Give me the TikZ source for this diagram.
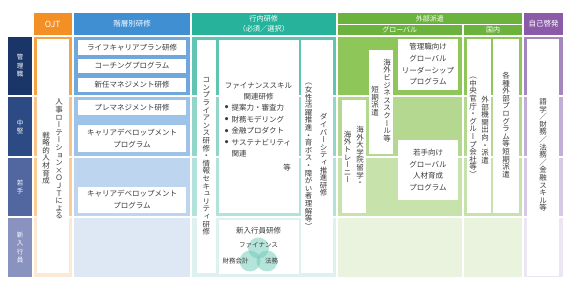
\documentclass[tikz,border=0pt]{standalone}
\usepackage{fontspec}
\setmainfont{Noto Sans CJK JP}
\newfontfamily\tatefont[RawFeature=+vert]{Noto Sans CJK JP}
\makeatletter
\newdimen\tate@w
\def\tate@end{\tate@end}
\def\tate@step#1{\ifx#1\tate@end\else\hbox to \tate@w{\hss#1\hss}\expandafter\tate@step\fi}
\newcommand\tate[2][7.6pt]{\vbox{\tatefont\tate@w=1em\baselineskip=#1\lineskip=0pt\lineskiplimit=-20pt\tate@step#2\tate@end}}
\makeatother
\newcommand\bul{\makebox[0pt][r]{\raisebox{1.5pt}{\fontsize{3.6}{4}\selectfont ●}\hspace{3.2pt}}}
\definecolor{txt}{HTML}{3A3A3A}
\definecolor{lab1}{HTML}{1A3668}
\definecolor{lab2}{HTML}{2C4B84}
\definecolor{lab3}{HTML}{5266A0}
\definecolor{lab4}{HTML}{8A92BF}
\definecolor{ojtH}{HTML}{F28F25}
\definecolor{ojt1}{HTML}{F5A346}
\definecolor{ojt2}{HTML}{F9C38C}
\definecolor{ojt3}{HTML}{FBCB98}
\definecolor{ojt4}{HTML}{FDE9D3}
\definecolor{kaiH}{HTML}{3F8FD2}
\definecolor{kai1}{HTML}{6FA8DC}
\definecolor{kai2}{HTML}{9DC3E8}
\definecolor{kai3}{HTML}{BDD5EF}
\definecolor{kai4}{HTML}{DEE8F5}
\definecolor{konH}{HTML}{27B39B}
\definecolor{kon1}{HTML}{5FC4B2}
\definecolor{kon2}{HTML}{92D6CA}
\definecolor{kon3}{HTML}{B3E2DA}
\definecolor{kon4}{HTML}{DDF2EE}
\definecolor{gaiH}{HTML}{6CB33E}
\definecolor{gai1}{HTML}{8FC65A}
\definecolor{gai2}{HTML}{B5D890}
\definecolor{gai3}{HTML}{C7E2AA}
\definecolor{gai4}{HTML}{E9F3DE}
\definecolor{jikoH}{HTML}{8B5BAA}
\definecolor{jiko1}{HTML}{A587C0}
\definecolor{jiko2}{HTML}{C2ADD6}
\definecolor{jiko3}{HTML}{D6C9E5}
\definecolor{jiko4}{HTML}{ECE5F3}
\definecolor{venn}{HTML}{6CCAB8}
\tikzset{
  hd/.style={inner sep=0, text=white, font=\fontsize{7.5}{10.5}\selectfont, align=center},
  lb/.style={inner sep=0, text=white, font=\fontsize{6.5}{8.5}\selectfont},
  tx/.style={inner sep=0, text=txt, font=\fontsize{7.5}{12}\selectfont, align=center},
  vt/.style={inner sep=0, text=txt, font=\fontsize{7.5}{7.6}\selectfont},
  sm/.style={inner sep=0, text=txt, font=\fontsize{6.5}{8}\selectfont},
  wbox/.style={fill=white},
}
\begin{document}
\begin{tikzpicture}[x=1pt,y=-1pt]
\useasboundingbox (0,0) rectangle (575,288);
\fill[white] (0,0) rectangle (575,288);
% row labels
\fill[lab1] (8,37) rectangle (32,95.5);
\fill[lab2] (8,97.5) rectangle (32,156);
\fill[lab3] (8,158) rectangle (32,216.5);
\fill[lab4] (8,218.5) rectangle (32,277);
\node[lb] (l1) at (20,66) {\tate[8.5pt]{管理職}};
\node[lb] (l2) at (20,126.75) {\tate[8.5pt]{中堅}};
\node[lb] (l3) at (20,187.25) {\tate[8.5pt]{若手}};
\node[lb] (l4) at (20,247.75) {\tate[8.5pt]{新入行員}};
% headers
\fill[ojtH] (33.5,13) rectangle (72,35);
\fill[kaiH] (74,13) rectangle (190,35);
\fill[konH] (192,13) rectangle (335.5,35);
\fill[gaiH] (337.5,13) rectangle (522,24.5);
\fill[gaiH] (337.5,25.5) rectangle (462,35);
\fill[gaiH] (464,25.5) rectangle (522,35);
\fill[jikoH] (524,13) rectangle (563,35);
\node[hd, font=\fontsize{8.5}{10}\selectfont] (hojt) at (52.75,24) {OJT};
\node[hd] (hkai) at (132,24) {階層別研修};
\node[hd, font=\fontsize{7.2}{10.5}\selectfont] (hkon) at (263.75,24) {行内研修\\（必須／選択）};
\node[hd, font=\fontsize{7}{8}\selectfont] (hgai) at (429.75,18.75) {外部派遣};
\node[hd, font=\fontsize{7}{8}\selectfont] (hglo) at (399.75,30.25) {グローバル};
\node[hd, font=\fontsize{7}{8}\selectfont] (hkok) at (493,30.25) {国内};
\node[hd] (hjiko) at (543.5,24) {自己啓発};
% bands
\foreach \xa/\xb/\c in {33.5/72/ojt, 74/190/kai, 192/335.5/kon, 337.5/462/gai, 464/522/gai, 524/563/jiko}{
  \fill[\c1] (\xa,37) rectangle (\xb,95.5);
  \fill[\c2] (\xa,97.5) rectangle (\xb,156);
  \fill[\c3] (\xa,158) rectangle (\xb,216.5);
  \fill[\c4] (\xa,218.5) rectangle (\xb,277);
}
% OJT
\fill[wbox] (37,39) rectangle (68.5,272.5);
\node[vt] (ojta) at (59,159) {\tate{人事ローテーション×ＯＪＴによる}};
\node[vt] (ojtb) at (46,158) {\tate{戦略的人材育成}};
% kaisobetsu
\fill[wbox] (78,40) rectangle (186,55);
\fill[wbox] (78,59) rectangle (186,73);
\fill[wbox] (78,78) rectangle (186,92);
\fill[wbox] (78,100) rectangle (186,115);
\fill[wbox] (78,125.5) rectangle (186,152);
\fill[wbox] (78,187) rectangle (186,213);
\node[tx] (k1) at (132,47.5) {ライフキャリアプラン研修};
\node[tx] (k2) at (132,66) {コーチングプログラム};
\node[tx] (k3) at (132,85) {新任マネジメント研修};
\node[tx] (k4) at (132,107.5) {プレマネジメント研修};
\node[tx] (k5) at (132,139) {キャリアデベロップメント\\プログラム};
\node[tx] (k6) at (132,200) {キャリアデベロップメント\\プログラム};
% konai
\fill[wbox] (196.5,40) rectangle (216,273);
\fill[wbox] (219,40) rectangle (298.5,213);
\fill[wbox] (218.5,220) rectangle (298.5,274);
\fill[wbox] (301,40) rectangle (333,273);
\node[vt] (comp) at (206.3,156.5) {\tate{コンプライアンス研修・情報セキュリティ研修}};
\node[tx, font=\fontsize{7.5}{11.6}\selectfont] (fin) at (258.5,91.5) {ファイナンススキル\\関連研修};
\node[tx, anchor=north west, align=left, font=\fontsize{7.5}{11.6}\selectfont] (fint) at (231.5,104) {\bul 提案力・審査力\\\bul 財務モデリング\\\bul 金融プロダクト\\\bul サステナビリティ\\関連};
\node[tx] (fintou) at (287,168) {等};
\node[vt] (div1) at (323.5,155) {\tate{ダイバーシティ推進研修}};
\node[vt] (div2) at (308.5,156.5) {\tate{（女性活躍推進・育ボス・障がい者理解等）}};
\node[tx] (shin) at (258.5,230.5) {新入行員研修};
\fill[venn, fill opacity=0.5] (258.5,248) circle (10.5);
\fill[venn, fill opacity=0.5] (250,261) circle (10.5);
\fill[venn, fill opacity=0.5] (267,261) circle (10.5);
\node[sm] (vfin) at (258.5,245.5) {ファイナンス};
\node[sm] (vzai) at (235.5,261.5) {財務会計};
\node[sm] (vhou) at (271.5,261.5) {法務};
% global
\fill[wbox] (369,50) rectangle (393,154);
\fill[wbox] (342,100) rectangle (366,213);
\fill[wbox] (398,39) rectangle (458,90);
\fill[wbox] (398,140) rectangle (458,200);
\node[vt] (bs1) at (387,100.5) {\tate{海外ビジネススクール等}};
\node[vt] (bs2) at (375,101) {\tate{短期派遣}};
\node[vt] (dg1) at (360,156) {\tate{海外大学院留学・}};
\node[vt] (dg2) at (347.5,157) {\tate{海外トレーニー}};
\node[tx, font=\fontsize{7.5}{11.7}\selectfont] (lead) at (428,64.5) {管理職向け\\グローバル\\リーダーシップ\\プログラム};
\node[tx, font=\fontsize{7.5}{11.7}\selectfont] (waka) at (428,170) {若手向け\\グローバル\\人材育成\\プログラム};
% kokunai
\fill[wbox] (467,39) rectangle (491,213);
\fill[wbox] (493,39) rectangle (519,213);
\node[vt] (gk1) at (485,130) {\tate{外部機関出向・派遣}};
\node[vt] (gk2) at (473,127.5) {\tate{（中央官庁・グループ会社等）}};
\node[vt] (ks) at (506,125) {\tate{各種外部プログラム等短期派遣}};
% jiko
\fill[wbox] (527,39) rectangle (559,276);
\node[vt] (jk) at (543,155) {\tate{語学／財務／法務／金融スキル等}};
\end{tikzpicture}
\end{document}
